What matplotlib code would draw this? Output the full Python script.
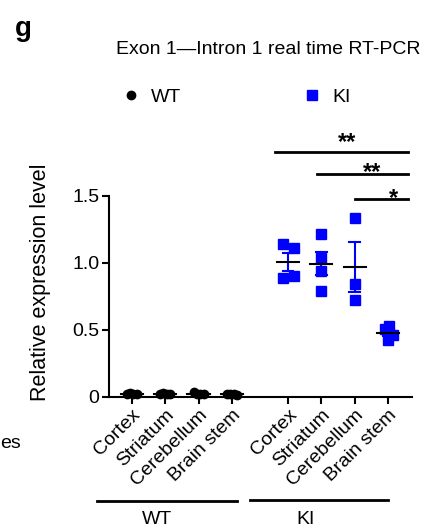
import numpy as np
import matplotlib
matplotlib.use("Agg")
import matplotlib.pyplot as plt
from matplotlib.lines import Line2D

plt.rcParams['font.family'] = ['Liberation Sans', 'DejaVu Sans']

# regions (same order for both genotypes)
regions = ['Cortex', 'Striatum', 'Cerebellum', 'Brain stem']

# WT relative expression (per animal)
wt_cortex = [0.020, 0.025, 0.022, 0.020]
wt_striatum = [0.022, 0.025, 0.020, 0.023]
wt_cerebellum = [0.035, 0.020, 0.018, 0.024]
wt_brainstem = [0.018, 0.022, 0.020, 0.016]

# KI relative expression (per animal)
ki_cortex = [1.14, 1.107, 0.884, 0.900]
ki_striatum = [1.212, 1.033, 0.940, 0.791]
ki_cerebellum = [1.331, 0.841, 0.722]
ki_brainstem = [0.503, 0.528, 0.463, 0.423]

wt_data = [wt_cortex, wt_striatum, wt_cerebellum, wt_brainstem]
ki_data = [ki_cortex, ki_striatum, ki_cerebellum, ki_brainstem]

# significance bars: (x from, x to, label)
sig_lines = [(4.29, 8.26), (5.54, 8.26), (6.69, 8.26)]
sig_heights = [1.83, 1.66, 1.478]
sig_labels = ['**', '**', '*']

# horizontal scatter offsets of points
wt_jit = [[-0.15, -0.05, 0.05, 0.15]] * 4
ki_jit = [[-0.165, 0.165, -0.165, 0.165], [0, 0, 0, 0], [0, 0, 0], [-0.11, 0.03, 0.15, 0.0]]

wt_pos = [0, 1, 2, 3]
ki_pos = [4.68, 5.68, 6.68, 7.68]

fig = plt.figure(figsize=(4.3, 5.29), dpi=100)
ax = fig.add_axes([0.2535, 0.25, 0.7045, 0.38])

blue = '#0000ff'

def draw_group(pos, data, jit, color, marker, ms):
    for p, vals, jj in zip(pos, data, jit):
        vals = np.array(vals)
        m = vals.mean()
        sem = vals.std(ddof=1) / np.sqrt(len(vals))
        ax.plot([p + j for j in jj], vals, linestyle='none', marker=marker,
                color=color, ms=ms, clip_on=False, zorder=3)
        ax.plot([p, p], [m - sem, m + sem], color=color, lw=1.5, zorder=2)
        for y in (m - sem, m + sem):
            ax.plot([p - 0.16, p + 0.16], [y, y], color=color, lw=1.5, zorder=2)
        ax.plot([p - 0.33, p + 0.33], [m, m], color='black', lw=1.5, zorder=4)

draw_group(wt_pos, wt_data, wt_jit, 'black', 'o', 6)
draw_group(ki_pos, ki_data, ki_jit, blue, 's', 6.5)

# stars sit a bit right of the bar centre
star_x = [6.45, 7.19, 7.85]
star_y = [1.851, 1.627, 1.433]
for (x0, x1), h, lab, sx, sy in zip(sig_lines, sig_heights, sig_labels, star_x, star_y):
    ax.plot([x0, x1], [h, h], color='black', lw=2, clip_on=False)
    ax.text(sx, sy, lab, ha='center', va='baseline',
            fontsize=17, fontweight='bold', clip_on=False)

ax.set_xlim(-0.68, 8.39)
ax.set_ylim(0, 1.5)
ax.set_yticks([0, 0.5, 1.0, 1.5])
ax.set_yticklabels(['0', '0.5', '1.0', '1.5'], fontsize=14)
ax.set_xticks(wt_pos + ki_pos)
ax.set_xticklabels(regions + regions, rotation=45, ha='right',
                   rotation_mode='anchor', fontsize=14)
ax.tick_params(axis='both', width=1.5, length=5, pad=2)
ax.spines['top'].set_visible(False)
ax.spines['right'].set_visible(False)
ax.spines['left'].set_linewidth(1.5)
ax.spines['bottom'].set_linewidth(1.5)
ax.set_ylabel('Relative expression level', fontsize=15.5)
ax.yaxis.set_label_coords(-0.191, 0.57)

# genotype brackets under the labels
tr = ax.get_xaxis_transform()
ax.plot([-1.05, 3.15], [-0.519, -0.519], color='black', lw=2, transform=tr, clip_on=False)
ax.plot([3.54, 7.67], [-0.514, -0.514], color='black', lw=2, transform=tr, clip_on=False)
ax.text(0.75, -0.57, 'WT', transform=tr, ha='center', va='top', fontsize=14)
ax.text(5.2, -0.57, 'KI', transform=tr, ha='center', va='top', fontsize=14)

handles = [Line2D([], [], marker='o', color='black', linestyle='none', ms=6),
           Line2D([], [], marker='s', color=blue, linestyle='none', ms=6.5)]
fig.legend(handles, ['WT', 'KI'], ncol=2, frameon=False, loc='center left',
           bbox_to_anchor=(0.263, 1 - 97 / 529), borderaxespad=0,
           handlelength=1.0, handletextpad=0.55, columnspacing=6.2, fontsize=14)

fig.text(268 / 430, 1 - 49 / 529, 'Exon 1\u2014Intron 1 real time RT-PCR',
         ha='center', va='center', fontsize=14)
fig.text(15 / 430, 1 - 36 / 529, 'g', ha='left', va='baseline', fontsize=20, fontweight='bold')
fig.text(0, 1 - 443 / 529, 'es', ha='left', va='center', fontsize=14)

fig.savefig('out.png', dpi=100)
